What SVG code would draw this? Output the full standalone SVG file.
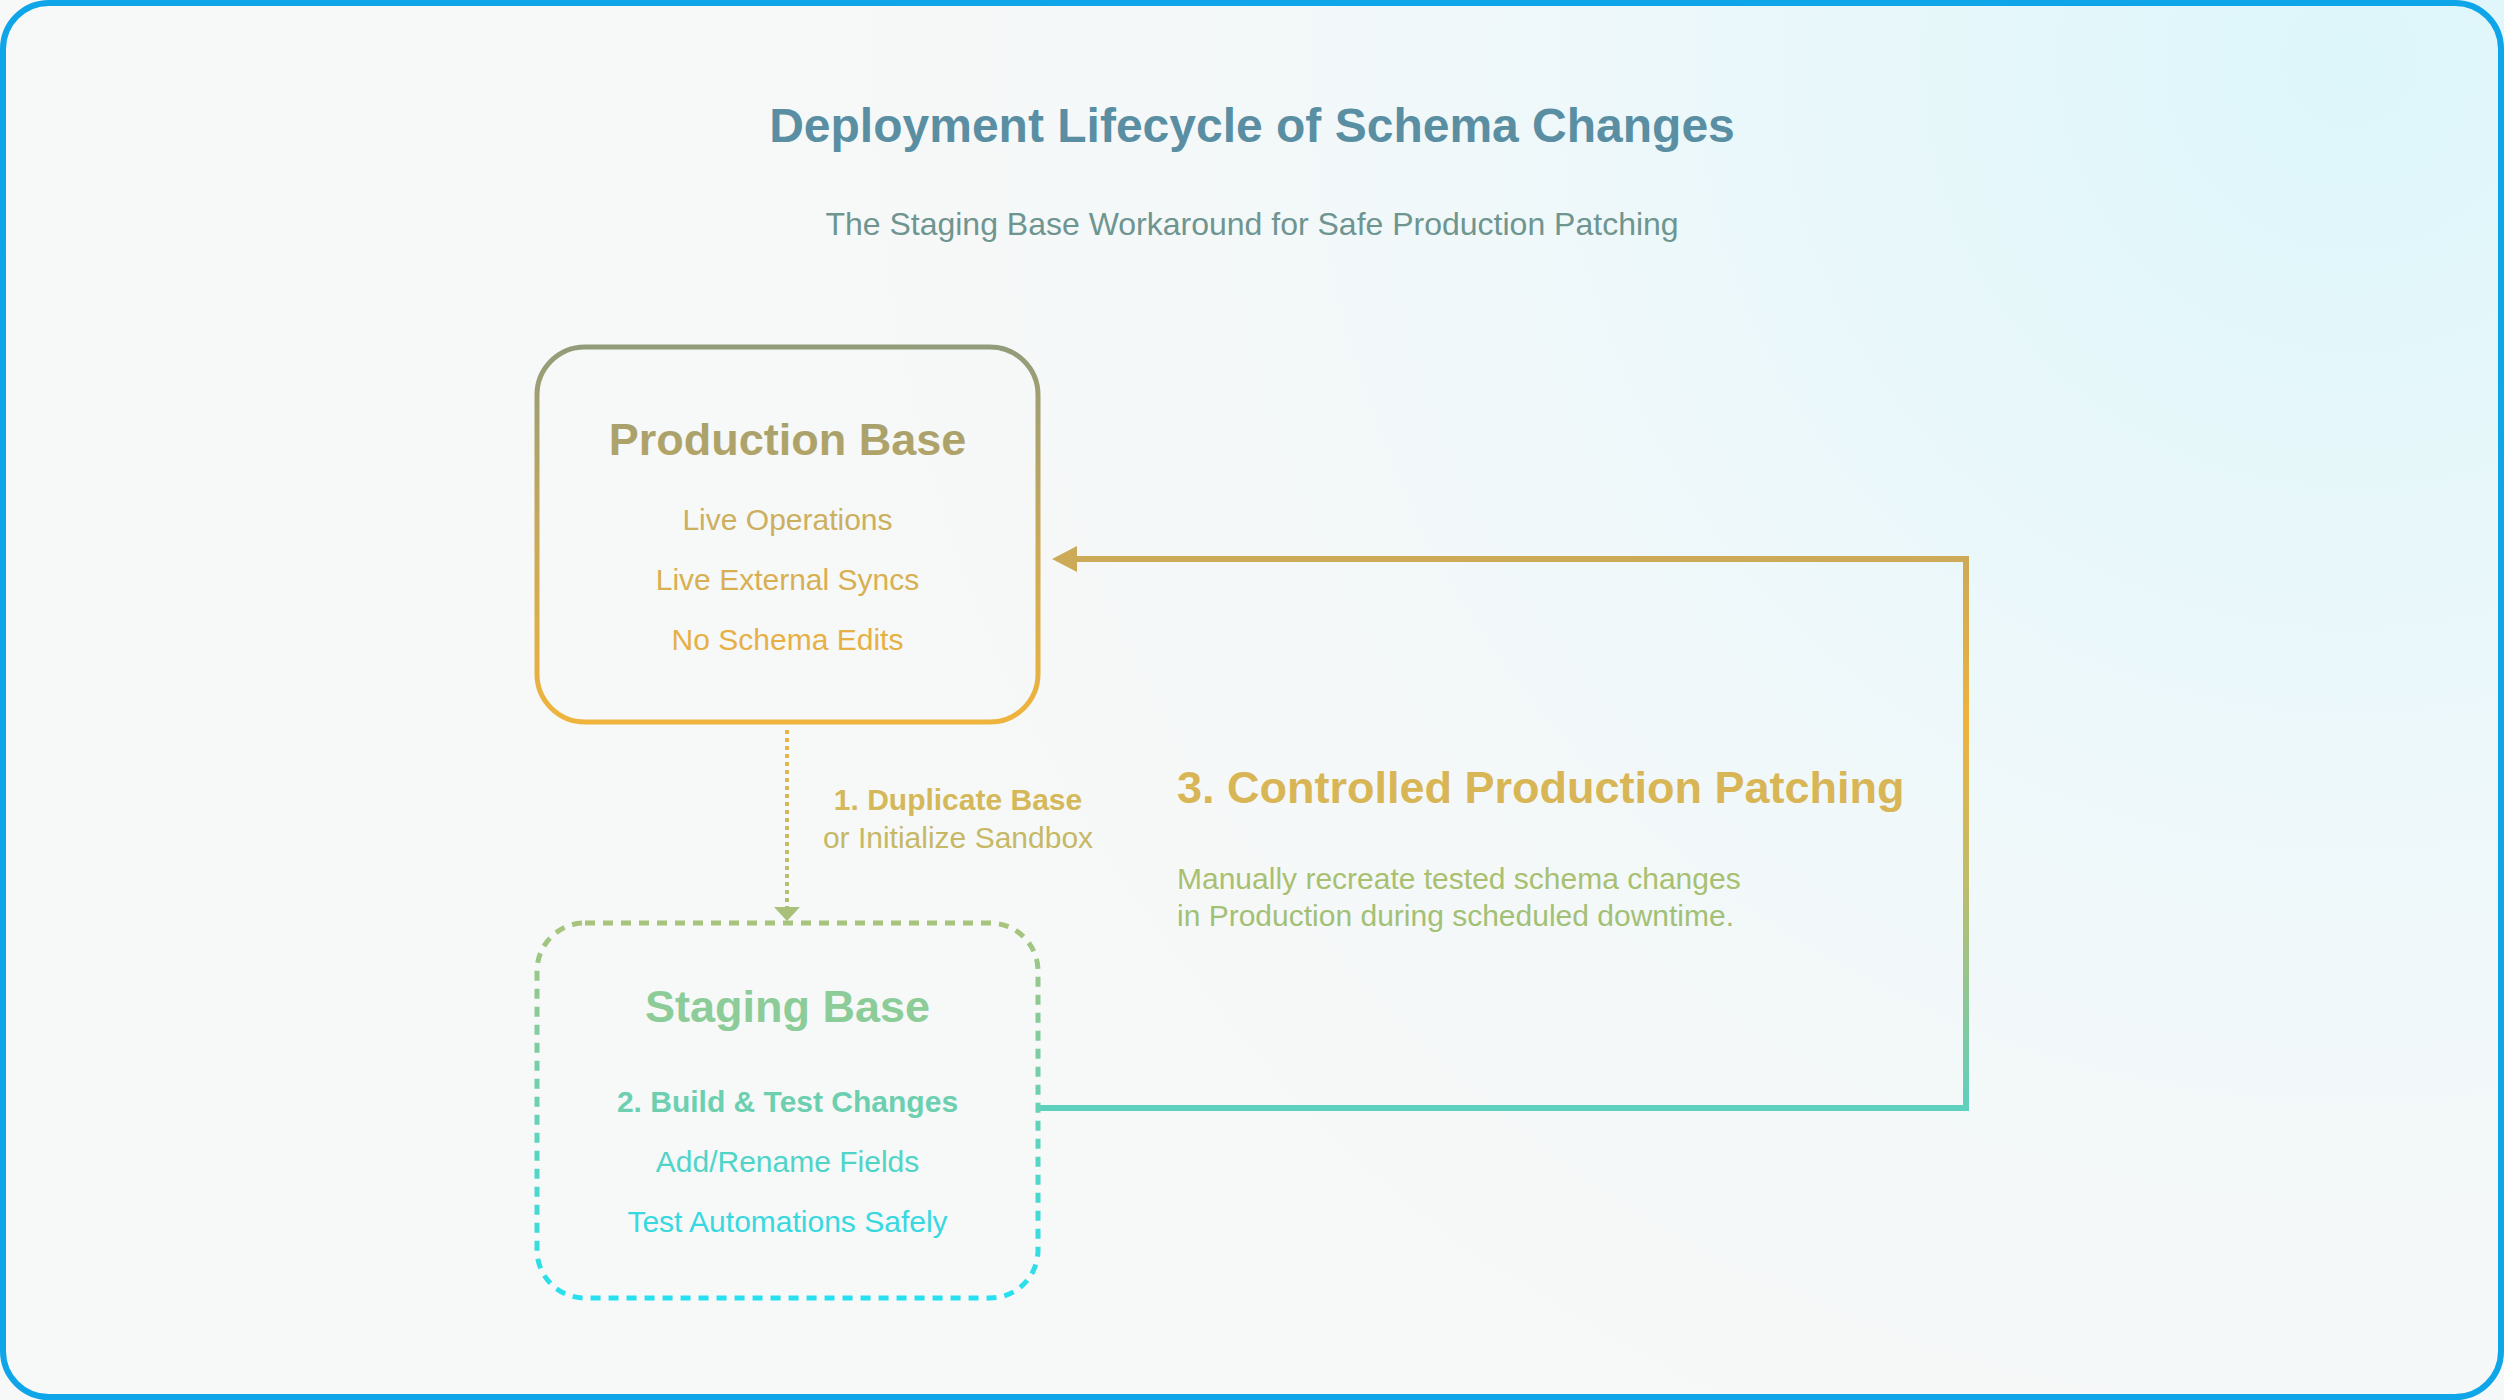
<svg xmlns="http://www.w3.org/2000/svg" width="2504" height="1400" viewBox="0 0 2504 1400">
  <defs>
    <radialGradient id="bgGlow" cx="2350" cy="60" r="1700" gradientUnits="userSpaceOnUse">
      <stop offset="0" stop-color="#DDF6FA"/>
      <stop offset="0.45" stop-color="#EEF8FA"/>
      <stop offset="1" stop-color="#F7F8F8" stop-opacity="0"/>
    </radialGradient>
    <linearGradient id="prodGrad" x1="0" y1="347" x2="0" y2="722" gradientUnits="userSpaceOnUse">
      <stop offset="0" stop-color="#929C7A"/>
      <stop offset="0.5" stop-color="#C8A95A"/>
      <stop offset="1" stop-color="#EFB43C"/>
    </linearGradient>
    <linearGradient id="stageGrad" x1="0" y1="923" x2="0" y2="1298" gradientUnits="userSpaceOnUse">
      <stop offset="0" stop-color="#A8C47C"/>
      <stop offset="0.45" stop-color="#6ED0AE"/>
      <stop offset="1" stop-color="#26E0F0"/>
    </linearGradient>
    <linearGradient id="dupGrad" x1="0" y1="730" x2="0" y2="920" gradientUnits="userSpaceOnUse">
      <stop offset="0" stop-color="#EDB440"/>
      <stop offset="1" stop-color="#A8C07A"/>
    </linearGradient>
    <linearGradient id="patchGrad" x1="0" y1="559" x2="0" y2="1108" gradientUnits="userSpaceOnUse">
      <stop offset="0" stop-color="#CCAA58"/>
      <stop offset="0.3" stop-color="#F0B23C"/>
      <stop offset="0.62" stop-color="#B8BE70"/>
      <stop offset="1" stop-color="#5ED0BE"/>
    </linearGradient>
    <style>
      .sans { font-family: "Liberation Sans", Arial, sans-serif; }
      .title { font-size: 48px; font-weight: bold; fill: #5A8FA3; }
      .subtitle { font-size: 32px; fill: #6E9590; }
      .nodeTitle { font-size: 45px; font-weight: bold; }
      .item { font-size: 30px; }
      .bold { font-weight: bold; }
      .nodeBox { fill: none; stroke-width: 5; }
    </style>
  </defs>

  <rect x="0" y="0" width="2504" height="1400" fill="#F7F8F8"/>
  <rect x="0" y="0" width="2504" height="1400" fill="url(#bgGlow)"/>
  <rect x="3" y="3" width="2498" height="1394" rx="46" ry="46" fill="none" stroke="#0EA5E9" stroke-width="6"/>

  <g id="header" class="sans" text-anchor="middle">
    <text class="title" x="1252" y="142">Deployment Lifecycle of Schema Changes</text>
    <text class="subtitle" x="1252" y="235">The Staging Base Workaround for Safe Production Patching</text>
  </g>

  <g id="connectors" class="sans">
    <g id="edge-duplicate">
      <line x1="787" y1="730" x2="787" y2="910" stroke="url(#dupGrad)" stroke-width="4" stroke-dasharray="4 4"/>
      <polygon points="774,907 800,907 787,921" fill="#A8C07A"/>
      <text x="958" y="810" text-anchor="middle" class="bold" font-size="30" fill="#D4B85A">1. Duplicate Base</text>
      <text x="958" y="848" text-anchor="middle" font-size="30" fill="#C6B865">or Initialize Sandbox</text>
    </g>
    <g id="edge-patch">
      <path d="M 1038 1108 H 1966 V 559 H 1072" fill="none" stroke="url(#patchGrad)" stroke-width="6"/>
      <polygon points="1052,559 1077,546 1077,572" fill="#CCAA58"/>
      <text x="1177" y="803" class="bold" font-size="45" fill="#D8B555">3. Controlled Production Patching</text>
      <text x="1177" y="889" font-size="30" fill="#A8C070">Manually recreate tested schema changes</text>
      <text x="1177" y="926" font-size="30" fill="#A2C076">in Production during scheduled downtime.</text>
    </g>
  </g>

  <g id="node-production" class="sans" text-anchor="middle">
    <rect class="nodeBox" x="537" y="347" width="501" height="375" rx="48" ry="48" stroke="url(#prodGrad)"/>
    <text class="nodeTitle" x="787.5" y="455" fill="url(#prodGrad)">Production Base</text>
    <text class="item" x="787.5" y="530" fill="#CDAF60">Live Operations</text>
    <text class="item" x="787.5" y="590" fill="#D8B052">Live External Syncs</text>
    <text class="item" x="787.5" y="650" fill="#E6B044">No Schema Edits</text>
  </g>

  <g id="node-staging" class="sans" text-anchor="middle">
    <rect class="nodeBox" x="537" y="923" width="501" height="375" rx="48" ry="48" stroke="url(#stageGrad)" stroke-dasharray="10 8"/>
    <text class="nodeTitle" x="787.5" y="1022" fill="#8CCC98">Staging Base</text>
    <text class="item bold" x="787.5" y="1112" fill="#6CD0B0">2. Build &amp; Test Changes</text>
    <text class="item" x="787.5" y="1172" fill="#50D4C8">Add/Rename Fields</text>
    <text class="item" x="787.5" y="1232" fill="#38D8E0">Test Automations Safely</text>
  </g>
</svg>
